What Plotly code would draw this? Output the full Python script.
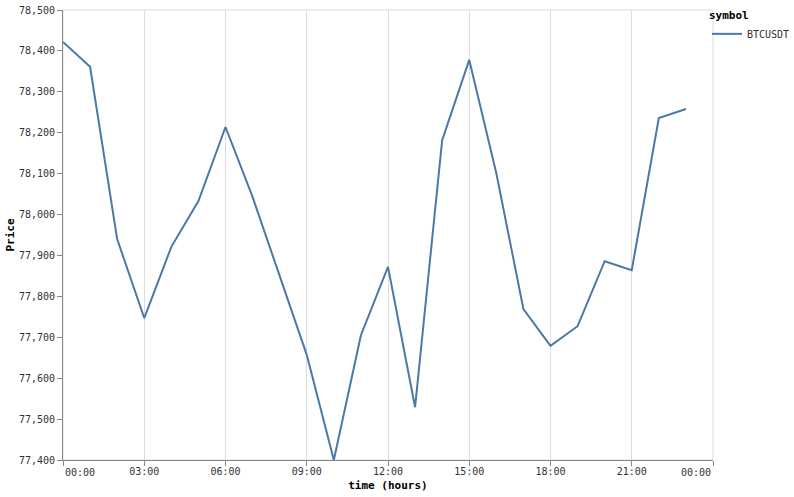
import datetime as dt
import plotly.graph_objects as go

# ---- data ----
hours = list(range(24))
prices = [78422, 78361, 77940, 77747, 77921, 78033, 78214, 78043, 77850, 77657,
          77400, 77705, 77872, 77529, 78182, 78378, 78101, 77769, 77679, 77727,
          77886, 77864, 78236, 78258]
symbol = "BTCUSDT"
y_ticks = [77400, 77500, 77600, 77700, 77800, 77900, 78000, 78100, 78200, 78300, 78400, 78500]
x_tick_hours = [0, 3, 6, 9, 12, 15, 18, 21, 24]
x_tick_labels = ["00:00", "03:00", "06:00", "09:00", "12:00", "15:00", "18:00", "21:00", "00:00"]

day0 = dt.datetime(2024, 1, 1)
times = [day0 + dt.timedelta(hours=h) for h in hours]
tick_times = [day0 + dt.timedelta(hours=h) for h in x_tick_hours]

MONO = "DejaVu Sans Mono"
LABEL_C = "#333"

fig = go.Figure()
fig.add_trace(go.Scatter(
    x=times, y=prices, mode="lines", name=symbol,
    line=dict(color="#4c78a8", width=2),
))

# inner tick labels on the axis; first/last flushed like the original
inner_text = [""] + x_tick_labels[1:-1] + [""]
for t, lab, anchor in [(tick_times[0], x_tick_labels[0], "left"),
                       (tick_times[-1], x_tick_labels[-1], "right")]:
    fig.add_annotation(x=t, xref="x", y=0, yref="paper", text=lab, showarrow=False,
                       xanchor=anchor, yanchor="top", yshift=-5, xshift=0,
                       font=dict(family=MONO, size=10, color=LABEL_C))

# view frame
fig.add_shape(type="rect", xref="paper", yref="paper", x0=0, y0=0, x1=1, y1=1,
              line=dict(color="#ddd", width=1), layer="below")

fig.update_layout(
    width=794, height=497,
    margin=dict(l=63, r=81, t=10, b=37, autoexpand=False),
    paper_bgcolor="white", plot_bgcolor="white",
    font=dict(family=MONO, size=10, color=LABEL_C),
    showlegend=True,
    hovermode=False,
    legend=dict(
        title=dict(text="<b>symbol</b>", font=dict(family=MONO, size=11, color="#000")),
        x=(707 - 63) / 650, y=1.011, xanchor="left", yanchor="top",
        font=dict(family=MONO, size=10, color=LABEL_C),
        itemwidth=30, tracegroupgap=0, bgcolor="rgba(0,0,0,0)",
    ),
    xaxis=dict(
        type="date", automargin=False,
        range=[tick_times[0], tick_times[-1]],
        tickvals=tick_times, ticktext=inner_text,
        showgrid=True, gridcolor="#ddd", gridwidth=1,
        showline=True, linecolor="#888", linewidth=1,
        ticks="outside", ticklen=5, tickcolor="#888",
        tickfont=dict(family=MONO, size=10, color=LABEL_C),
        ticklabelstandoff=-3,
        title=dict(text="<b>time (hours)</b>", font=dict(family=MONO, size=11, color="#000"), standoff=5),
        zeroline=False,
    ),
    yaxis=dict(
        automargin=False,
        range=[77400, 78500],
        tickvals=y_ticks, tickformat=",d",
        ticklabeloverflow="allow",
        showgrid=False,
        showline=True, linecolor="#888", linewidth=1,
        ticks="outside", ticklen=5, tickcolor="#888",
        tickfont=dict(family=MONO, size=10, color=LABEL_C),
        title=dict(text="<b>Price</b>", font=dict(family=MONO, size=11, color="#000"), standoff=2),
        zeroline=False,
    ),
)

fig.write_html("out.html", config={"displayModeBar": False},
               post_script="document.body.style.margin='0';")
